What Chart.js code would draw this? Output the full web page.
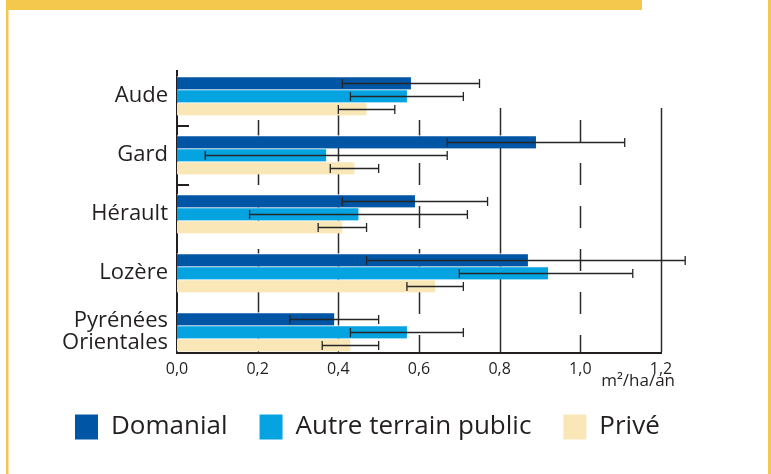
<!DOCTYPE html>
<html>
<head>
<meta charset="utf-8">
<script src="https://cdn.jsdelivr.net/npm/chart.js@4.4.1/dist/chart.umd.min.js"></script>
<style>
  html, body { margin: 0; padding: 0; background: #fff; }
</style>
</head>
<body>
<canvas id="chart" width="771" height="474"></canvas>
<script>
// categories and x ticks
var categories = ['Aude', 'Gard', 'Hérault', 'Lozère', ['Pyrénées', 'Orientales']];
var xTicks = [0, 0.2, 0.4, 0.6, 0.8, 1.0, 1.2];
var seriesNames = ['Domanial', 'Autre terrain public', 'Privé'];

// m²/ha/an
var domanial     = [0.58, 0.89, 0.59, 0.87, 0.39];
var domanialLow  = [0.41, 0.67, 0.41, 0.47, 0.28];
var domanialHigh = [0.75, 1.11, 0.77, 1.26, 0.50];

var autre     = [0.57, 0.37, 0.45, 0.92, 0.57];
var autreLow  = [0.43, 0.07, 0.18, 0.70, 0.43];
var autreHigh = [0.71, 0.67, 0.72, 1.13, 0.71];

var prive     = [0.47, 0.44, 0.41, 0.64, 0.43];
var priveLow  = [0.40, 0.38, 0.35, 0.57, 0.36];
var priveHigh = [0.54, 0.50, 0.47, 0.71, 0.50];

var colors = ['#0055a5', '#05a3df', '#f9e7b8'];
var ink = '#231f20';
var frameYellow = '#f4c84d';

var errors = [[domanialLow, domanialHigh], [autreLow, autreHigh], [priveLow, priveHigh]];

Chart.defaults.font.family = "'Open Sans', sans-serif";
Chart.defaults.color = ink;

// yellow frame round the figure
var framePlugin = {
	id: 'frame',
	beforeDraw: function(chart) {
		var ctx = chart.ctx;
		ctx.save();
		ctx.fillStyle = '#fff';
		ctx.fillRect(0, 0, chart.width, chart.height);
		ctx.fillStyle = frameYellow;
		ctx.fillRect(6, 0, 636, 10);
		ctx.fillRect(6, 0, 2.5, chart.height);
		ctx.fillRect(768, 0, 3, chart.height);
		ctx.restore();
	}
};

// grid: solid every 0.4, dashed in between, plus the axis lines
var gridPlugin = {
	id: 'oddGrid',
	beforeDatasetsDraw: function(chart) {
		var ctx = chart.ctx;
		var x = chart.scales.x, y = chart.scales.y;
		var area = chart.chartArea;
		var base = area.bottom + 20;
		ctx.save();
		ctx.strokeStyle = '#2b2b2b';
		ctx.lineWidth = 1.5;
		for (var i = 1; i < xTicks.length; i++) {
			var px = Math.round(x.getPixelForValue(xTicks[i])) + 0.5;
			var dashed = i % 2 == 1;
			ctx.setLineDash(dashed ? [22, 21] : []);
			ctx.beginPath();
			ctx.moveTo(px, dashed ? area.top + 24 : area.top + 12);
			ctx.lineTo(px, base);
			ctx.stroke();
		}
		ctx.setLineDash([]);
		ctx.strokeStyle = ink;
		ctx.lineWidth = 2;
		var left = x.getPixelForValue(0);
		ctx.beginPath();
		ctx.moveTo(left, area.top - 26);
		ctx.lineTo(left, base + 1);
		ctx.lineTo(x.getPixelForValue(1.2) + 1, base + 1);
		ctx.stroke();
		// the two little marks on the left axis
		for (var k = 0; k < 2; k++) {
			var my = Math.round((y.getPixelForValue(k) + y.getPixelForValue(k + 1)) / 2);
			ctx.beginPath();
			ctx.moveTo(left, my);
			ctx.lineTo(left + 12, my);
			ctx.stroke();
		}
		ctx.restore();
	}
};

var errorBarPlugin = {
	id: 'errorBars',
	afterDatasetsDraw: function(chart) {
		var ctx = chart.ctx;
		var x = chart.scales.x;
		ctx.save();
		ctx.strokeStyle = '#262626';
		ctx.lineWidth = 1.3;
		chart.data.datasets.forEach(function(ds, d) {
			var meta = chart.getDatasetMeta(d);
			meta.data.forEach(function(bar, i) {
				var cy = Math.round(bar.y) + 0.5;
				var x1 = x.getPixelForValue(errors[d][0][i]);
				var x2 = x.getPixelForValue(errors[d][1][i]);
				ctx.beginPath();
				ctx.moveTo(x1, cy);
				ctx.lineTo(x2, cy);
				ctx.moveTo(x1, cy - 4.5);
				ctx.lineTo(x1, cy + 4.5);
				ctx.moveTo(x2, cy - 4.5);
				ctx.lineTo(x2, cy + 4.5);
				ctx.stroke();
			});
		});
		ctx.restore();
	}
};

var unitPlugin = {
	id: 'unit',
	afterDraw: function(chart) {
		var ctx = chart.ctx;
		var x = chart.scales.x;
		ctx.save();
		ctx.font = "17px 'Open Sans', sans-serif";
		ctx.fillStyle = ink;
		ctx.textAlign = 'right';
		ctx.textBaseline = 'alphabetic';
		ctx.fillText('m²/ha/an', x.getPixelForValue(1.2) + 14, chart.chartArea.bottom + 54);
		ctx.restore();
	}
};

var seriesValues = [domanial, autre, prive];
var datasets = [];
for (var i = 0; i < seriesNames.length; i++) {
	datasets.push({
		label: seriesNames[i],
		data: seriesValues[i],
		backgroundColor: colors[i],
		borderColor: '#fff',
		borderWidth: {top: 1, right: 0, bottom: 0, left: 0},
		borderSkipped: false,
		barThickness: 13,
		clip: false
	});
}

new Chart(document.getElementById('chart'), {
	type: 'bar',
	data: {labels: categories, datasets: datasets},
	options: {
		indexAxis: 'y',
		responsive: false,
		animation: false,
		devicePixelRatio: 1,
		layout: {padding: {left: 43, top: 96, right: 0, bottom: 24}},
		scales: {
			x: {
				type: 'linear',
				min: 0,
				max: 1.2,
				grid: {display: false, drawTicks: false},
				border: {display: false},
				afterBuildTicks: function(scale) {
					scale.ticks = xTicks.map(function(v) { return {value: v}; });
				},
				afterFit: function(scale) { scale.height = 50; },
				ticks: {
					font: {size: 16},
					color: ink,
					padding: 28,
					maxRotation: 0,
					autoSkip: false,
					callback: function(v) { return v.toFixed(1).replace('.', ','); }
				}
			},
			y: {
				type: 'category',
				offset: false,
				grid: {display: false, drawTicks: false},
				border: {display: false},
				afterFit: function(scale) { scale.width = 134; },
				ticks: {font: {size: 22, lineHeight: 1.0}, color: ink, padding: 9}
			},
			yRight: {
				type: 'category',
				axis: 'y',
				position: 'right',
				grid: {display: false, drawTicks: false},
				border: {display: false},
				ticks: {display: false},
				afterFit: function(scale) { scale.width = 110; }
			}
		},
		plugins: {
			tooltip: {enabled: false},
			legend: {
				position: 'bottom',
				align: 'start',
				labels: {
					boxWidth: 23,
					boxHeight: 25,
					padding: 32,
					color: ink,
					font: {size: 26},
					generateLabels: function(chart) {
						var items = Chart.defaults.plugins.legend.labels.generateLabels(chart);
						items.forEach(function(it) { it.lineWidth = 0; });
						return items;
					}
				}
			}
		}
	},
	plugins: [framePlugin, gridPlugin, errorBarPlugin, unitPlugin]
});
</script>
</body>
</html>
